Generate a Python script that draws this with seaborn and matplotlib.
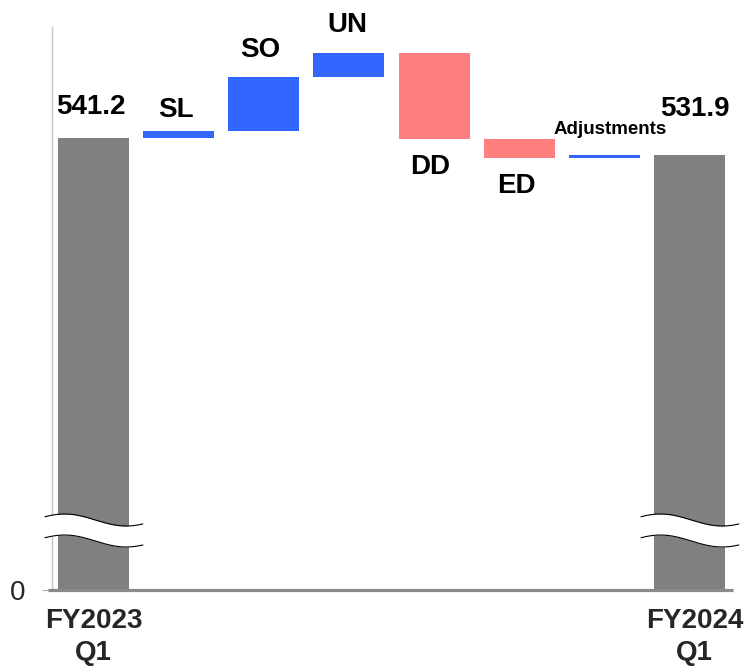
import numpy as np
import pandas as pd
import matplotlib
matplotlib.use("Agg")
import matplotlib.pyplot as plt
import matplotlib.transforms as mtransforms
import seaborn as sns

# ---- data -------------------------------------------------------------
start_label = "FY2023\nQ1"
end_label = "FY2024\nQ1"
start_value = 541.2
end_value = 531.9
step_labels = ["SL", "SO", "UN", "DD", "ED", "Adjustments"]
step_values = [3.8, 29.0, 12.7, -46.2, -10.4, 1.8]

# ---- colours ----------------------------------------------------------
TOTAL_COLOR = "#808080"
UP_COLOR = "#3366FF"
DOWN_COLOR = "#FF7F7F"

# ---- waterfall table --------------------------------------------------
items = [start_label] + step_labels + [end_label]
heights = [start_value] + step_values + [end_value]
levels = np.cumsum([start_value] + step_values)
bases = [0.0] + list(levels[:-1]) + [0.0]
colors = [TOTAL_COLOR] + [UP_COLOR if v >= 0 else DOWN_COLOR for v in step_values] + [TOTAL_COLOR]
df = pd.DataFrame({"item": items, "height": heights, "base": bases, "color": colors})

# ---- broken value axis: 0..BREAK squeezed, BREAK..top linear ------------
Y_TOP = 600.7
BREAK = 320.0
AX_H_PX = 563.0
PX_PER_UNIT = 1.86
low = Y_TOP - AX_H_PX / PX_PER_UNIT
squeeze = (BREAK - low) / BREAK


def fwd(y):
    y = np.asarray(y, dtype=float)
    return np.where(y >= BREAK, y, BREAK - (BREAK - y) * squeeze)


def inv(t):
    t = np.asarray(t, dtype=float)
    return np.where(t >= BREAK, t, BREAK - (BREAK - t) / squeeze)


sns.set_theme(style="white")
plt.rcParams["font.family"] = ["Liberation Sans", "DejaVu Sans"]

fig = plt.figure(figsize=(7.49, 6.70), dpi=100)
ax = fig.add_axes([52 / 749, 80 / 670, 681 / 749, 563 / 670])

sns.barplot(
    data=df, x="item", y="height", hue="item", order=items,
    palette=dict(zip(items, colors)), legend=False, width=0.834,
    saturation=1, linewidth=0, ax=ax,
)

# lift the floating bars onto their running level
for patch, base in zip(sorted(ax.patches, key=lambda p: p.get_x()), bases):
    patch.set_y(base)

ax.set_yscale("function", functions=(fwd, inv))
ax.set_ylim(0, Y_TOP)
ax.set_xlim(-0.487, 7.511)

# axes styling
for side in ("top", "right", "bottom"):
    ax.spines[side].set_visible(False)
ax.spines["left"].set_color("#c4c4c4")
ax.spines["left"].set_linewidth(1.0)
ax.grid(False)

base_tr = mtransforms.blended_transform_factory(ax.transAxes, ax.transData)
ax.plot([-0.006, 1.0], [0, 0], color="#8a8a8a", lw=2.3, transform=base_tr,
        clip_on=False, zorder=4, solid_capstyle="butt")

ax.set_yticks([0], ["0"])
ax.tick_params(axis="y", length=7, width=0.8, color="#aaaaaa", pad=12,
               labelsize=20, left=True)
ax.set_xticks([0, len(items) - 1], [start_label, end_label])
ax.tick_params(axis="x", length=0, pad=13)
for lab in ax.get_xticklabels():
    lab.set_fontsize(20)
    lab.set_fontweight("bold")
    lab.set_linespacing(1.32)
# nudge the right-hand period label slightly to the right
end_tick = ax.get_xticklabels()[-1]
end_tick.set_transform(end_tick.get_transform()
                       + mtransforms.ScaledTranslation(5 / 100, 0, fig.dpi_scale_trans))
ax.set_xlabel("")
ax.set_ylabel("")

# value / name labels (offsets in points)
label_spec = [
    (0, start_value, f"{start_value:.1f}", -2, 17, 20),
    (len(items) - 1, end_value, f"{end_value:.1f}", 4, 28, 20),
]
offsets = {
    "SL": (-2, 9.6, 20),
    "SO": (-2.5, 14.4, 20),
    "UN": (-1, 15, 20),
    "DD": (-2.5, -25.4, 20),
    "ED": (-2, -24.8, 20),
    "Adjustments": (4, 14.9, 13.5),
}
for i, (name, val) in enumerate(zip(step_labels, step_values), start=1):
    top = max(bases[i], bases[i] + val)
    bottom = min(bases[i], bases[i] + val)
    dx, dy, fs = offsets[name]
    anchor = top if dy > 0 else bottom
    label_spec.append((i, anchor, name, dx, dy, fs))

for xi, yv, txt, dx, dy, fs in label_spec:
    ax.annotate(txt, xy=(xi, yv), xytext=(dx, dy), textcoords="offset points",
                ha="center", va="baseline", fontsize=fs, fontweight="bold",
                color="black")

# wavy break marks across the two total bars
wave_tr = mtransforms.blended_transform_factory(ax.transData, ax.transAxes)
t = np.linspace(0, 1, 200)
for xc in (0, len(items) - 1):
    xs = xc - 0.57 + 1.15 * t
    y_pix = 520 + 6 * np.cos(2 * np.pi * (t - 0.83) / 1.26)
    upper = (590 - y_pix) / AX_H_PX
    lower = (590 - (y_pix + 21)) / AX_H_PX
    ax.fill_between(xs, lower, upper, color="white", transform=wave_tr,
                    clip_on=False, zorder=5, lw=0)
    ax.plot(xs, upper, color="black", lw=0.8, transform=wave_tr, clip_on=False, zorder=6)
    ax.plot(xs, lower, color="black", lw=0.8, transform=wave_tr, clip_on=False, zorder=6)

fig.savefig("out.png", dpi=100)
